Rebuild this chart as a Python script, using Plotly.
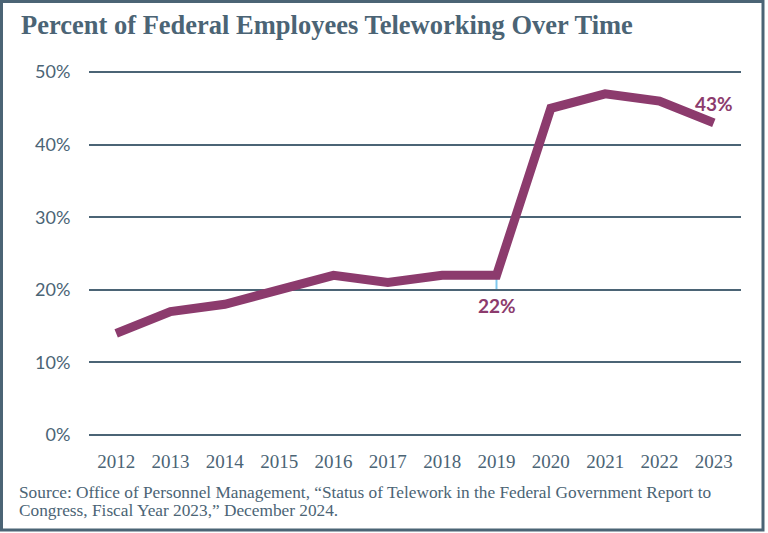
import plotly.graph_objects as go

years = [2012, 2013, 2014, 2015, 2016, 2017, 2018, 2019, 2020, 2021, 2022, 2023]
telework_pct = [14, 17, 18, 20, 22, 21, 22, 22, 45, 47, 46, 43]
y_ticks = [0, 10, 20, 30, 40, 50]

slate = "#4b6475"
purple = "#8c3b6d"

fig = go.Figure()
fig.add_trace(go.Scatter(
    x=years, y=telework_pct, mode="lines",
    line=dict(color=purple, width=9),
    cliponaxis=False, hoverinfo="skip"
))

# little leader line under the 2019 point
fig.add_shape(type="line", x0=2019, x1=2019, y0=22, y1=20,
              line=dict(color="#7ec8ee", width=2), layer="below")

fig.add_annotation(x=2019, y=17.9, text="<b>22%</b>", showarrow=False,
                   font=dict(family="Lato", size=19, color=purple))
fig.add_annotation(x=2023, y=45.7, text="<b>43%</b>", showarrow=False,
                   font=dict(family="Lato", size=19, color=purple))

# paper px helpers: plot area is 652 x 365 starting at (89, 71)
def px_x(p):
    return (p - 89) / 652

def px_y(p):
    return (436 - p) / 365

fig.add_annotation(xref="paper", yref="paper", x=px_x(19), y=px_y(25),
                   xanchor="left", yanchor="middle", showarrow=False,
                   text="<b>Percent of Federal Employees Teleworking Over Time</b>",
                   font=dict(family="Liberation Serif", size=26.5, color=slate))

source_lines = [
    "Source: Office of Personnel Management, \u201cStatus of Telework in the Federal Government Report to",
    "Congress, Fiscal Year 2023,\u201d December 2024.",
]
for i, line in enumerate(source_lines):
    fig.add_annotation(xref="paper", yref="paper", x=px_x(17), y=px_y(492 + 18 * i),
                       xanchor="left", yanchor="middle", showarrow=False,
                       text=line,
                       font=dict(family="Liberation Serif", size=17.3, color=slate))

# frame around the whole picture
fig.add_shape(type="rect", xref="paper", yref="paper",
              x0=px_x(1.5), x1=px_x(763), y0=px_y(530), y1=px_y(1.5),
              line=dict(color=slate, width=3))

fig.update_xaxes(range=[2011.5, 2023.5], tickmode="array", tickvals=years,
                 showgrid=False, zeroline=False, showline=False,
                 ticks="outside", ticklen=8, tickcolor="white",
                 tickfont=dict(family="Liberation Serif", size=19, color=slate))
fig.update_yaxes(range=[-0.14, 50.14], tickmode="array", tickvals=y_ticks,
                 ticktext=[f"{v}%" for v in y_ticks],
                 showgrid=True, gridcolor=slate, gridwidth=2,
                 zeroline=False, showline=False,
                 ticks="outside", ticklen=14, tickcolor="white",
                 tickfont=dict(family="Lato", size=18, color=slate))

fig.update_layout(
    width=768, height=533,
    margin=dict(l=89, r=27, t=71, b=97),
    plot_bgcolor="white", paper_bgcolor="white",
    showlegend=False
)

fig.write_html("out.html", config={"displayModeBar": False},
               post_script="document.body.style.margin='0';")
